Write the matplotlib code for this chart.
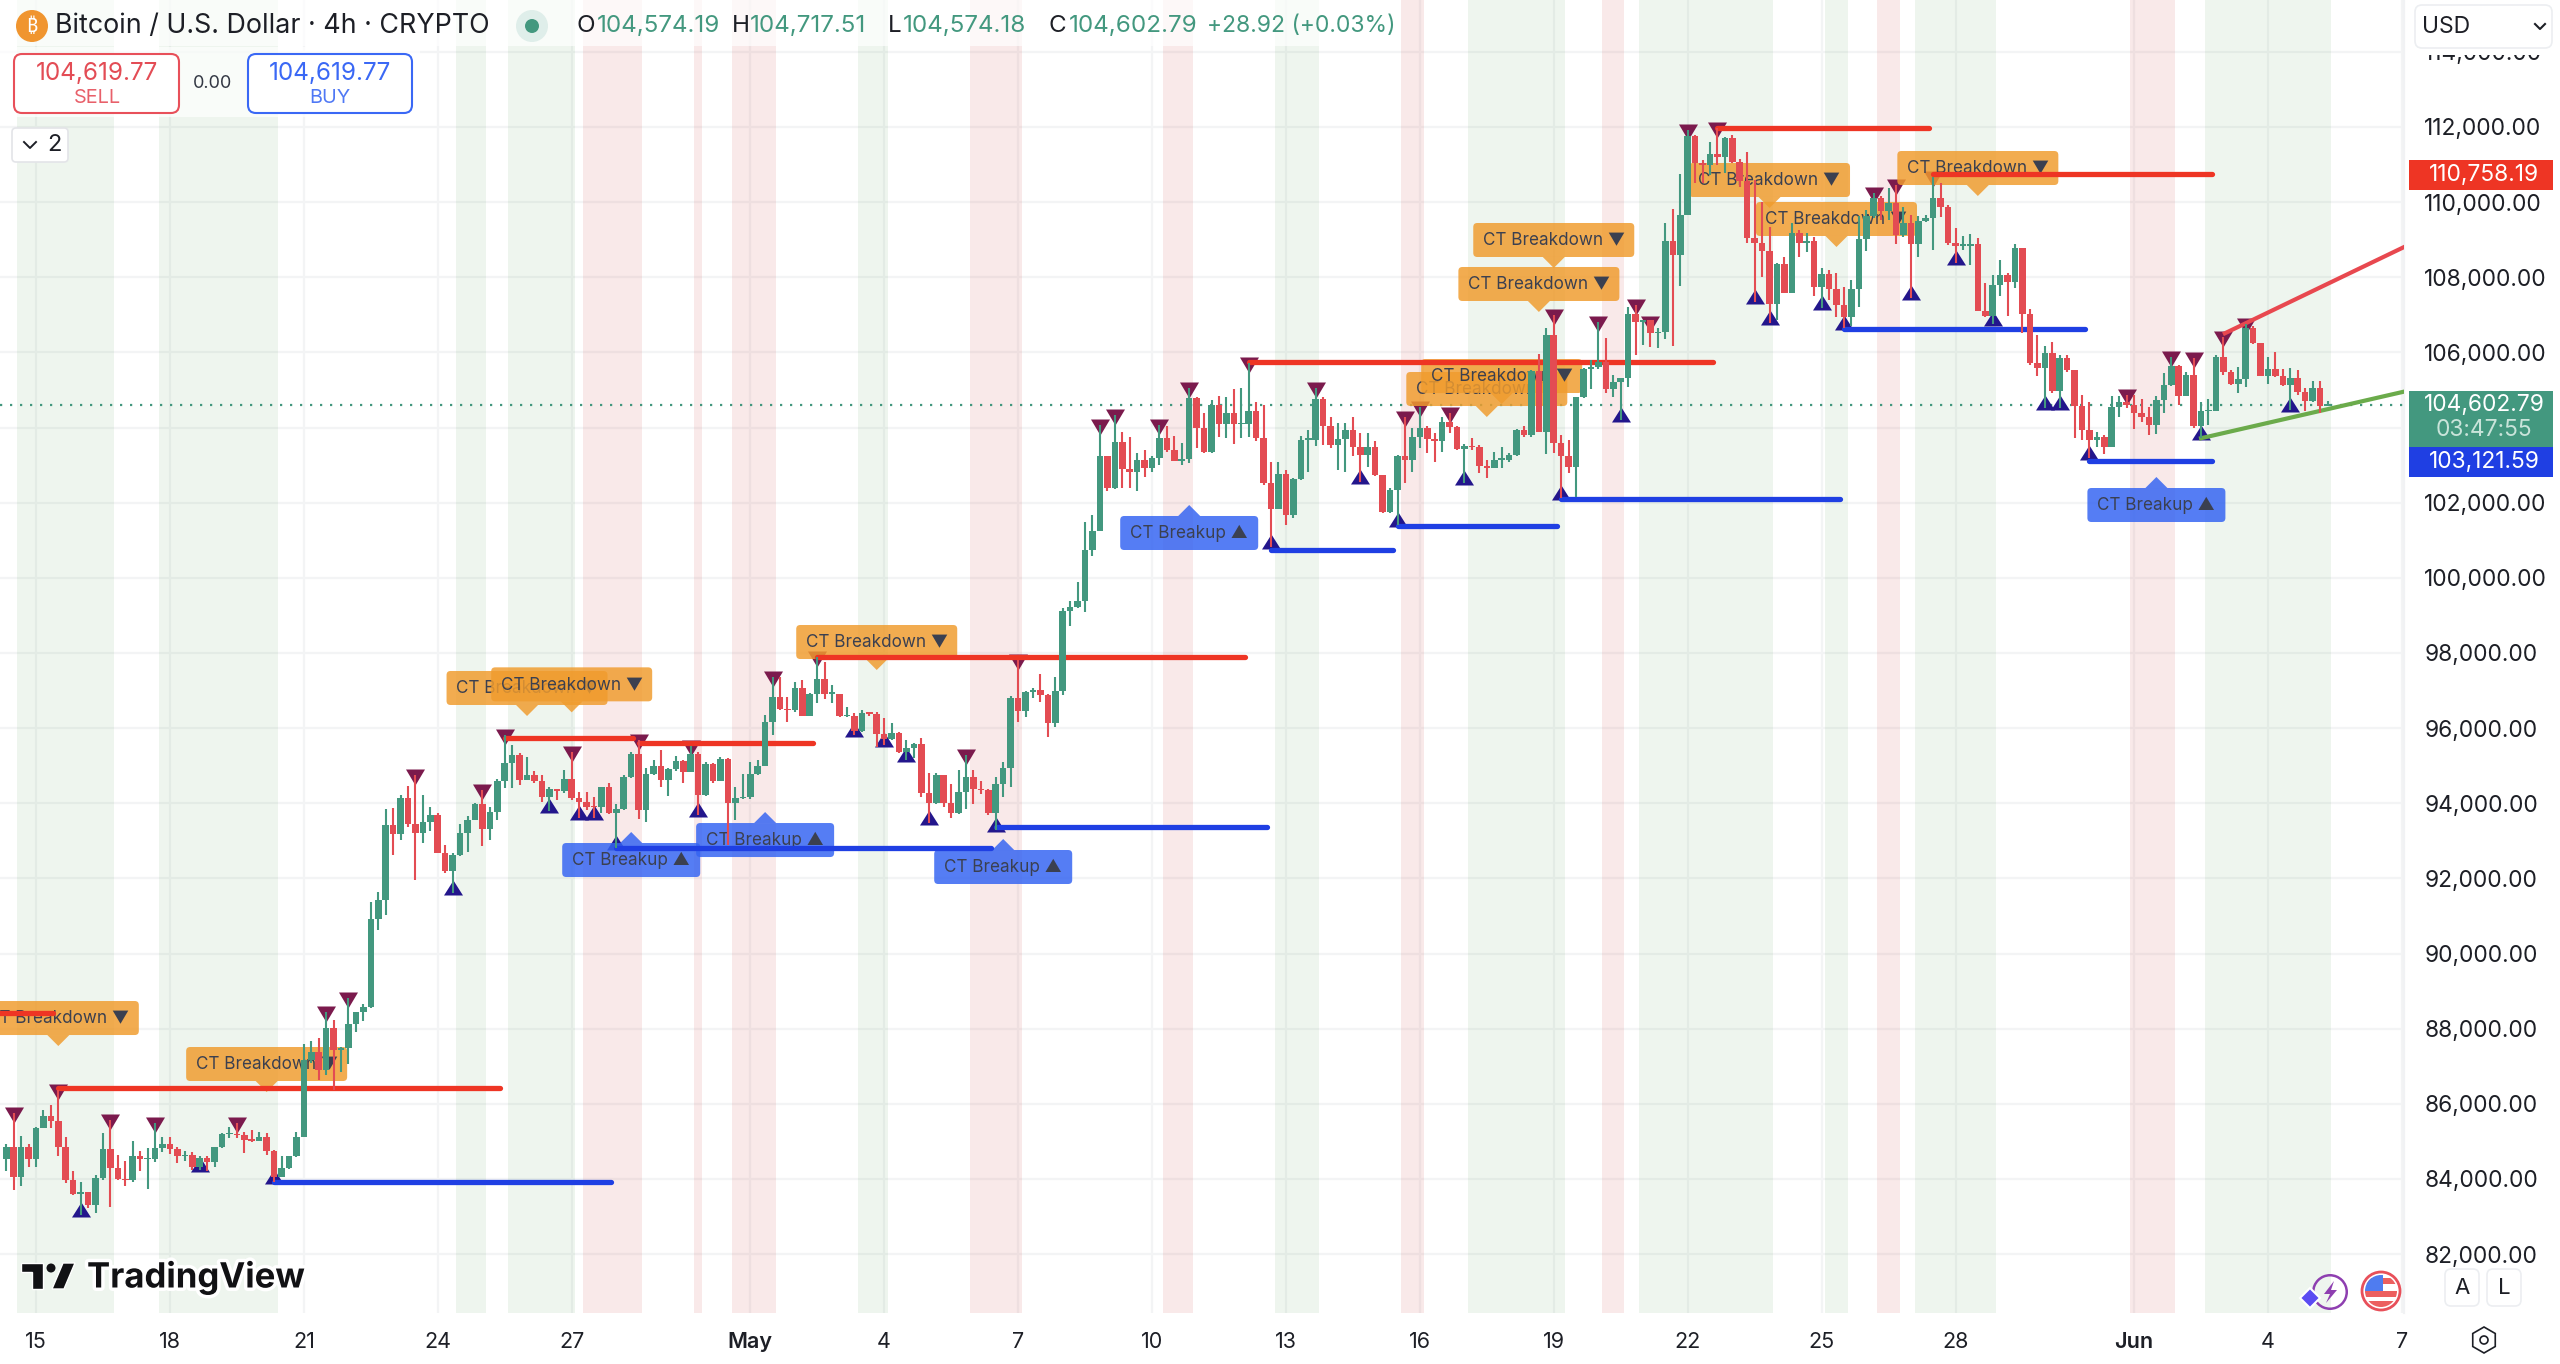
import numpy as np
import matplotlib
matplotlib.use('Agg')
import matplotlib.pyplot as plt
from matplotlib.patches import Circle, FancyBboxPatch, Polygon, Rectangle, RegularPolygon, Wedge
from matplotlib.path import Path
from matplotlib.transforms import IdentityTransform
import matplotlib.patheffects as pe

plt.rcParams['font.family'] = ['Inter', 'DejaVu Sans']

# BTC/USD 4h bars, index 0 = 15 Apr 00:00, first bar is index -4
first_bar = -4
first_open = 84520
closes = [
    84860, 84060, 84840, 84530, 85350, 85680, 85550, 84860, 83960, 83600,
    83650, 83310, 84020, 84790, 84300, 83990, 83970, 84620, 84530, 84530,
    84820, 84920, 84800, 84600, 84640, 84330, 84550, 84440, 84840, 85190,
    85200, 85170, 85040, 85020, 85130, 84750, 84060, 84300, 84600, 85130,
    87170, 87390, 86900, 88010, 87420, 87480, 88130, 88440, 88590, 90920,
    91430, 93420, 93170, 94150, 93450, 93200, 93500, 93690, 92670, 92200,
    92610, 93200, 93560, 93980, 93320, 93780, 94600, 95060, 95290, 94620,
    94750, 94590, 94160, 94380, 94330, 94640, 94130, 94030, 93910, 93890,
    94430, 93730, 93840, 94690, 95300, 93820, 94780, 95000, 94620, 94910,
    95130, 94820, 95300, 94220, 95040, 94600, 95180, 94000, 94130, 94180,
    94770, 95000, 96160, 96820, 96500, 96480, 97080, 96330, 96910, 97310,
    96910, 96910, 96320, 96320, 95920, 96410, 96380, 95840, 95700, 95860,
    95370, 95460, 95570, 94270, 94000, 94740, 94000, 93730, 94290, 94710,
    94380, 94350, 93750, 94510, 94930, 96790, 96460, 96950, 97020, 96880,
    96130, 96990, 99120, 99230, 99380, 100730, 101250, 103240, 102380, 103620,
    102900, 102830, 103140, 102920, 103180, 103730, 103390, 103110, 103170, 104780,
    103980, 103340, 104600, 104100, 104400, 104090, 104090, 104450, 103720, 102520,
    101830, 102770, 101660, 102620, 103670, 103670, 104750, 104050, 103540, 103690,
    103940, 103470, 103270, 103480, 102740, 101740, 102340, 103250, 103140, 103740,
    104000, 103690, 103650, 104160, 104010, 103430, 103520, 103470, 102980, 102920,
    103140, 103140, 103270, 103940, 103790, 105510, 103890, 106470, 103600, 103230,
    102960, 104810, 105560, 105600, 105740, 105020, 105210, 105310, 107020, 106820,
    106850, 106510, 106550, 108970, 108590, 109660, 111770, 111030, 110990, 111280,
    111190, 111720, 111080, 110550, 109040, 108910, 108700, 107290, 108360, 107590,
    109170, 108910, 108960, 107750, 108090, 107680, 107250, 106950, 107690, 109010,
    109620, 110100, 109770, 109990, 109130, 109440, 108890, 109510, 109570, 110120,
    109880, 108920, 108840, 108840, 108890, 107110, 106970, 107800, 108050, 107870,
    108770, 107020, 105710, 105580, 105980, 104980, 105850, 105520, 104580, 103940,
    103670, 103760, 103480, 104560, 104690, 104600, 104400, 104290, 104070, 104740,
    105140, 105650, 104840, 105400, 104040, 104440, 104450, 105870, 105470, 105160,
    105290, 106640, 106240, 105380, 105550, 105360, 105120, 105310, 104940, 104720,
    105060, 104574, 104603,
]
highs = [
    84920, 85750, 85150, 84920, 85390, 85840, 85970, 86370, 85110, 84220,
    83910, 83660, 84110, 85230, 85570, 84640, 84490, 85020, 84750, 84820,
    85480, 85130, 85130, 84860, 84750, 84730, 84600, 84620, 84860, 85230,
    85390, 85480, 85260, 85300, 85240, 85220, 84770, 84600, 84610, 85240,
    87580, 87680, 87740, 88450, 88230, 87520, 88810, 88450, 88660, 91380,
    91630, 93840, 93880, 94220, 94470, 94750, 94220, 93890, 93750, 92890,
    92670, 93450, 93650, 94020, 94350, 93890, 94640, 95820, 95550, 95350,
    95220, 94860, 94750, 94420, 94380, 94890, 95370, 94290, 94310, 94180,
    94440, 94530, 93970, 94750, 95370, 95690, 94930, 95150, 95420, 94930,
    95270, 95150, 95530, 95370, 95110, 95060, 95220, 95200, 94440, 94770,
    95110, 95150, 96350, 97370, 97350, 96840, 97220, 97280, 96930, 97900,
    97770, 97150, 96880, 96550, 96390, 96480, 96440, 96440, 96260, 96130,
    95910, 95690, 95610, 95730, 94800, 94800, 94750, 94510, 94890, 95290,
    94890, 94590, 94370, 94690, 95110, 96860, 97810, 97000, 97060, 97440,
    96910, 97350, 99190, 99390, 99880, 101490, 101670, 104070, 103240, 104340,
    103890, 103740, 103330, 103390, 103240, 104070, 104040, 103780, 103580, 105050,
    104820, 104380, 104740, 104850, 104810, 105020, 105050, 105710, 104690, 104600,
    103090, 103090, 102870, 102650, 103780, 103940, 105050, 104820, 104290, 104130,
    104130, 104290, 103850, 103850, 103630, 102740, 102390, 103270, 104290, 103980,
    104560, 104030, 103850, 104290, 104380, 104030, 103560, 103720, 103540, 103140,
    103360, 103470, 103320, 103950, 104050, 105530, 105960, 106640, 107000, 103800,
    103670, 104820, 105580, 105800, 106820, 106380, 105400, 105310, 107220, 107260,
    106860, 106820, 106640, 109440, 109810, 110750, 111920, 111790, 111120, 111610,
    111970, 111740, 111790, 111140, 111340, 110590, 110010, 109350, 108370, 108550,
    109440, 109260, 109170, 109080, 108240, 108200, 108110, 107730, 107930, 109620,
    109790, 110240, 110150, 110370, 110460, 109880, 109660, 109620, 109660, 110680,
    110500, 109930, 109300, 109100, 109140, 109040, 107840, 108060, 108460, 108110,
    108890, 108770, 107160, 106470, 106160, 106270, 105930, 105930, 105530, 104870,
    104690, 103890, 103810, 104840, 104830, 104870, 104870, 104750, 104560, 104830,
    105450, 105890, 105670, 105490, 105850, 104670, 104750, 105930, 106420, 105520,
    105610, 106760, 106690, 106260, 105890, 106020, 105550, 105580, 105520, 105050,
    105240, 105250, 104718,
]
lows = [
    84220, 83710, 83820, 84330, 84330, 85350, 85350, 84600, 83890, 83580,
    83040, 83220, 83100, 83970, 83260, 83970, 83800, 83930, 84200, 83730,
    84460, 84730, 84670, 84420, 84490, 84240, 84240, 84220, 84330, 84820,
    85080, 85080, 84700, 84990, 85020, 84640, 83930, 84060, 84260, 84580,
    85110, 87080, 86640, 86770, 86370, 86860, 87060, 87920, 88210, 88550,
    90630, 91030, 92630, 93020, 93360, 91960, 92940, 93270, 92670, 92140,
    91610, 92600, 92700, 93560, 92860, 93020, 93560, 94400, 94400, 94490,
    94620, 94530, 94040, 93800, 94090, 94270, 94090, 93600, 93820, 93600,
    93750, 93710, 92800, 93820, 94670, 93580, 93490, 94750, 94440, 94200,
    94870, 94530, 94820, 93690, 94200, 94530, 94580, 92890, 93560, 94110,
    94110, 94740, 94980, 95820, 96480, 96170, 96440, 96320, 96320, 96660,
    96770, 96660, 96290, 96290, 95820, 95910, 96310, 95510, 95550, 95690,
    95330, 95150, 95200, 94160, 93470, 93980, 93890, 93600, 93720, 93850,
    93980, 94250, 93690, 93290, 94180, 94440, 96170, 96290, 96810, 96700,
    95770, 96040, 96880, 98720, 99190, 99080, 100590, 101260, 102320, 102360,
    102400, 102380, 102310, 102690, 102830, 103010, 103360, 103110, 103000, 103050,
    103450, 103320, 103330, 103760, 103720, 103560, 103720, 103740, 103630, 102470,
    100830, 102430, 101410, 101590, 102610, 102830, 103510, 103540, 103450, 102870,
    102830, 103230, 102560, 102960, 102710, 101720, 101720, 101410, 102520, 102830,
    103450, 103320, 103090, 103340, 103850, 103400, 102520, 103400, 102780, 102650,
    102920, 102920, 103090, 103230, 103760, 103760, 103880, 103300, 103320, 102120,
    102780, 102160, 104780, 105020, 105550, 104930, 104820, 104190, 105090, 105930,
    106200, 106140, 106110, 106350, 106160, 107770, 109660, 110500, 110500, 110720,
    110990, 110770, 111030, 110400, 108910, 107350, 108020, 106780, 106870, 107570,
    107570, 108550, 108680, 107500, 107180, 107400, 106950, 106640, 106690, 107220,
    108710, 109570, 109530, 109530, 108890, 109080, 107440, 108550, 109480, 108730,
    109600, 108860, 108370, 108730, 108330, 107090, 106950, 106760, 107490, 106970,
    107710, 106510, 105670, 105360, 104510, 104910, 104510, 105490, 103720, 103670,
    103180, 103490, 103300, 103480, 104290, 104510, 103960, 104160, 103810, 103820,
    104380, 105110, 104600, 104830, 103980, 103720, 104070, 104430, 105400, 105140,
    104910, 105070, 106220, 105360, 105160, 105340, 105110, 104470, 104870, 104450,
    104690, 104400, 104574,
]

# bars where the pivot triangles sit
pivot_highs = [-3, 3, 10, 16, 27, 39, 42, 51, 60, 63, 72, 81, 88, 99, 105, 125, 132,
               143, 145, 151, 155, 163, 172, 184, 186, 190, 204, 210, 215, 217,
               222, 226, 247, 250, 255, 281, 287, 290, 294, 297]
pivot_lows = [6, 22, 32, 56, 69, 73, 75, 78, 89, 110, 114, 117, 120, 129,
              166, 178, 183, 192, 205, 213, 231, 233, 240, 243, 252, 258, 263,
              270, 272, 276, 291, 303]

# (start bar, end bar, price)
red_levels = [(-6, 2.3, 88425), (3, 62.4, 86430), (63, 80.2, 95747), (81, 104.4, 95596),
              (105, 162.5, 97885), (163, 225.4, 105755), (226, 254.5, 111983), (255, 292.5, 110758.19)]
blue_levels = [(32, 77.3, 83929), (78, 128.3, 92815), (129, 165.4, 93370), (166, 182.4, 100744),
               (183, 204.4, 101391), (205, 242.5, 102110), (243, 275.4, 106634), (276, 292.5, 103121.59)]
res_trend = [(294.2, 106509), (318.3, 108806)]
sup_trend = [(291, 103716), (318.3, 104957)]

# session shading, (start bar, end bar)
green_bands = [(-2.5, 10.5), (16.5, 32.5), (56.5, 60.5), (63.5, 72.5), (110.5, 114.5), (166.5, 172.5),
               (192.5, 205.5), (215.5, 233.5), (240.5, 243.5), (252.5, 263.5), (291.5, 308.5)]
red_bands = [(73.5, 81.5), (88.5, 89.5), (93.5, 99.5), (125.5, 132.5), (151.5, 155.5), (183.5, 186.5),
             (210.5, 213.5), (247.5, 250.5), (281.5, 287.5)]

# callouts (bar, price of the tip), later ones cover earlier ones
breakdown_tips = [(3, 87539), (31, 86315), (66, 96323), (72, 96420), (113, 97547), (204, 108247),
                  (202, 107076), (195, 104281), (197, 104627), (233, 109844), (242, 108806), (261, 110163)]
breakup_tips = [(80, 93235), (98, 93767), (130, 93049), (155, 101939), (285, 102684)]

x_tick_pos = [0, 18, 36, 54, 72, 96, 114, 132, 150, 168, 186, 204, 222, 240, 258, 282, 300, 318]
x_tick_labels = ['15', '18', '21', '24', '27', 'May', '4', '7', '10', '13', '16', '19', '22', '25', '28', 'Jun', '4', '7']
y_ticks = list(range(82000, 116000, 2000))

UP = '#43987f'
DOWN = '#e34c53'
RED_LINE = '#ee3524'
BLUE_LINE = '#1f3fe3'
TEXT = '#1d1f26'

fig = plt.figure(figsize=(25.6, 13.64), dpi=100, facecolor='white')
ax = fig.add_axes([0, 51 / 1364, 2404 / 2560, 1313 / 1364])
ax.set_xlim(-4.84, 318.28)
ax.set_ylim(80433, 115380)

ax.set_axisbelow(True)
ax.grid(True, color='#f3f4f5', linewidth=1.6)
ax.set_yticks(y_ticks)
ax.set_yticklabels([f'{v:,.2f}' for v in y_ticks])
ax.yaxis.tick_right()
ax.set_xticks(x_tick_pos)
ax.set_xticklabels(x_tick_labels)
ax.tick_params(axis='y', length=0, pad=14.5, labelsize=16.4, labelcolor=TEXT)
ax.tick_params(axis='x', length=0, pad=14, labelsize=15.5, labelcolor=TEXT)
for lab in ax.get_xticklabels():
    if lab.get_text() in ('May', 'Jun'):
        lab.set_fontweight('semibold')
for s in ('top', 'left', 'bottom'):
    ax.spines[s].set_visible(False)
ax.spines['right'].set_color('#f1f2f4')
ax.spines['right'].set_linewidth(1.6)

for a, b in green_bands:
    ax.axvspan(a, b, color='#4c9a4c', alpha=0.09, linewidth=0, zorder=1)
for a, b in red_bands:
    ax.axvspan(a, b, color='#d24a4a', alpha=0.12, linewidth=0, zorder=1)

ax.axhline(104602.79, color=UP, linewidth=1.6, linestyle=(0, (1, 3.5)), zorder=1.5)

# candles
closes = np.array(closes, dtype=float)
highs = np.array(highs, dtype=float)
lows = np.array(lows, dtype=float)
opens = np.r_[first_open, closes[:-1]]
xs = np.arange(len(closes)) + first_bar
colors = [UP if c >= o else DOWN for o, c in zip(opens, closes)]

# pivots sit under the callouts and candles
down_tri = Path([(-9.5, 6), (9.5, 6), (0, -10), (-9.5, 6)], closed=True)
up_tri = Path([(-9.5, -2), (9.5, -2), (0, 13), (-9.5, -2)], closed=True)
hi_idx = np.array(pivot_highs) - first_bar
lo_idx = np.array(pivot_lows) - first_bar
ax.plot(xs[hi_idx], highs[hi_idx], ls='none', marker=down_tri, ms=14.4, mfc='#7b1a4d', mew=0, zorder=2)
ax.plot(xs[lo_idx], lows[lo_idx], ls='none', marker=up_tri, ms=18.72, mfc='#23168c', mew=0, zorder=2)


def callout(bar, price, label, w, color, pointing_down, z):
    tx, ty = ax.transData.transform((bar, price))
    sign = 1 if pointing_down else -1
    near = ty + sign * 11
    far = near + sign * 34
    y0 = min(near, far)
    ax.add_patch(FancyBboxPatch((tx - w / 2, y0), w, 34, boxstyle='round,pad=0,rounding_size=4',
                                fc=color, ec='none', alpha=0.84, transform=IdentityTransform(), zorder=z))
    ax.add_patch(Polygon([(tx - 11, near), (tx + 11, near), (tx, ty)], closed=True, fc=color, ec='none',
                         alpha=0.84, transform=IdentityTransform(), zorder=z))
    ax.text(tx, y0 + 17, label, transform=IdentityTransform(), ha='center', va='center', fontsize=12.3,
            color='#3b4050', zorder=z + 0.001, clip_on=True)


z = 3.0
for bar, price in breakdown_tips:
    callout(bar, price, 'CT Breakdown ▼', 161, '#f09c2e', True, z)
    z += 0.01
for bar, price in breakup_tips:
    callout(bar, price, 'CT Breakup ▲', 138, '#3464f2', False, z)
    z += 0.01

for a, b, p in red_levels:
    ax.plot([a, b], [p, p], color=RED_LINE, lw=3.8, solid_capstyle='round', zorder=4)
for a, b, p in blue_levels:
    ax.plot([a, b], [p, p], color=BLUE_LINE, lw=3.8, solid_capstyle='round', zorder=4)
ax.plot(*zip(*res_trend), color='#e8484f', lw=3, zorder=4)
ax.plot(*zip(*sup_trend), color='#6bab4b', lw=3, zorder=4)

ax.vlines(xs, lows, highs, colors=colors, linewidth=1.5, zorder=5)
ax.bar(xs, np.maximum(np.abs(closes - opens), 40), bottom=np.minimum(opens, closes), width=0.88,
       color=colors, linewidth=0, zorder=5)

# everything around the chart, in screen pixels
ov = fig.add_axes([0, 0, 1, 1], facecolor='none')
ov.set_xlim(0, 2560)
ov.set_ylim(1364, 0)
ov.axis('off')

ov.add_patch(Rectangle((0, 0), 1400, 46, fc='white', alpha=0.7, ec='none'))
ov.add_patch(Rectangle((0, 47), 420, 70, fc='white', alpha=0.7, ec='none'))
ov.add_patch(Rectangle((2406, 0), 154, 55, fc='white', ec='none'))

ov.add_patch(Circle((32, 26), 16, fc='#f0952f', ec='none'))
ov.text(32, 27, '₿', ha='center', va='center', fontsize=14, color='white',
        family=['Noto Sans', 'Roboto', 'Open Sans', 'Lato', 'Liberation Sans', 'DejaVu Sans'], weight='bold')
ov.text(55, 26, 'Bitcoin / U.S. Dollar · 4h · CRYPTO', va='center', fontsize=19.3, color=TEXT)
ov.add_patch(Circle((532, 26), 16, fc='#dfeeea', ec='none'))
ov.add_patch(Circle((532, 26), 7, fc=UP, ec='none'))

ohlc = [(576, 'O', TEXT), (597, '104,574.19', UP), (732, 'H', TEXT), (750, '104,717.51', UP),
        (888, 'L', TEXT), (903, '104,574.18', UP), (1049, 'C', TEXT), (1069, '104,602.79', UP)]
for px, s, col in ohlc:
    ov.text(px, 26, s, va='center', fontsize=17.4, color=col)
ov.text(1207, 26, '+28.92 (+0.03%)', va='center', fontsize=16.5, color=UP)

ov.add_patch(FancyBboxPatch((14, 54), 165, 59, boxstyle='round,pad=0,rounding_size=8', fc='white', ec='#e8505a', lw=1.5))
ov.text(97, 74, '104,619.77', ha='center', va='center', fontsize=17.5, color='#e34c55')
ov.text(97, 98, 'SELL', ha='center', va='center', fontsize=14.3, color='#e8606a')
ov.text(213, 84, '0.00', ha='center', va='center', fontsize=13, color='#333844')
ov.add_patch(FancyBboxPatch((248, 54), 164, 59, boxstyle='round,pad=0,rounding_size=8', fc='white', ec='#3a68f5', lw=1.5))
ov.text(330, 74, '104,619.77', ha='center', va='center', fontsize=17.5, color='#3a68f5')
ov.text(330, 98, 'BUY', ha='center', va='center', fontsize=14.3, color='#4f78f5')

ov.add_patch(FancyBboxPatch((12, 128), 56, 34, boxstyle='round,pad=0,rounding_size=4', fc='white', ec='#e3e4e8', lw=1.2))
ov.plot([24, 30, 36], [142, 148, 142], color=TEXT, lw=1.4)
ov.text(54, 145, '2', ha='center', va='center', fontsize=17, color=TEXT)

ov.add_patch(FancyBboxPatch((2415, 5), 137, 43, boxstyle='round,pad=0,rounding_size=7', fc='white', ec='#eceef1', lw=1.2))
ov.text(2422, 27, 'USD', va='center', fontsize=16.5, color=TEXT)
ov.plot([2535, 2540, 2545], [24, 29, 24], color=TEXT, lw=1.5)

# price tags
ov.add_patch(Rectangle((2409, 160), 144, 30, fc=RED_LINE, ec='none'))
ov.text(2484, 175, '110,758.19', ha='center', va='center', fontsize=16.4, color='white')
ov.add_patch(Rectangle((2409, 391), 144, 56, fc=UP, ec='none'))
ov.text(2484, 405, '104,602.79', ha='center', va='center', fontsize=16.4, color='white')
ov.text(2484, 430, '03:47:55', ha='center', va='center', fontsize=16.4, color='#c9e4da')
ov.add_patch(Rectangle((2409, 447), 144, 30, fc=BLUE_LINE, ec='none'))
ov.text(2484, 462, '103,121.59', ha='center', va='center', fontsize=16.4, color='white')

# TradingView logo
halo = [pe.withStroke(linewidth=5, foreground='white')]
logo_color = '#111114'
ov.add_patch(Polygon([(21, 1263), (43, 1263), (43, 1289), (32, 1289), (32, 1272), (21, 1272)], closed=True, fc=logo_color, ec='white', lw=1))
ov.add_patch(Circle((51, 1268), 4.5, fc=logo_color, ec='none'))
ov.add_patch(Polygon([(63, 1263), (75, 1263), (64, 1289), (52, 1289)], closed=True, fc=logo_color, ec='white', lw=1))
ov.text(87, 1278, 'TradingView', va='center', fontsize=25, weight='bold', color=logo_color, path_effects=halo)

# icons in the bottom right
ov.add_patch(Wedge((2330, 1292), 18, 0, 360, width=2.5, fc='#8e3fb0', ec='none'))
ov.add_patch(Polygon([(2334, 1281), (2324, 1294), (2330, 1294), (2326, 1303), (2337, 1290), (2331, 1290)], closed=True, fc='#8e3fb0', ec='none'))
ov.add_patch(RegularPolygon((2310, 1298), 4, radius=10, fc='#5b4cf2', ec='white', lw=1.5))
ov.add_patch(Circle((2381, 1291), 19, fc='white', ec='#e8505a', lw=2))
for sy in (1278, 1291, 1301):
    r = Rectangle((2365, sy), 32, 6, fc='#ec5f5f', ec='none')
    ov.add_patch(r)
    r.set_clip_path(Circle((2381, 1291), 16, transform=ov.transData))
c = Rectangle((2365, 1275), 18, 16, fc='#4f7cf0', ec='none')
ov.add_patch(c)
c.set_clip_path(Circle((2381, 1291), 16, transform=ov.transData))

for bx, s in ((2445, 'A'), (2487, 'L')):
    ov.add_patch(FancyBboxPatch((bx, 1269), 34, 37, boxstyle='round,pad=0,rounding_size=6', fc='white', ec='#eceef1', lw=1.2))
    ov.text(bx + 17, 1288, s, ha='center', va='center', fontsize=16, color=TEXT)
ov.add_patch(RegularPolygon((2484, 1340), 6, radius=13, fc='none', ec=TEXT, lw=1.2))
ov.add_patch(Circle((2484, 1340), 4, fc='none', ec=TEXT, lw=1.2))

fig.savefig('out.png', dpi=100)
